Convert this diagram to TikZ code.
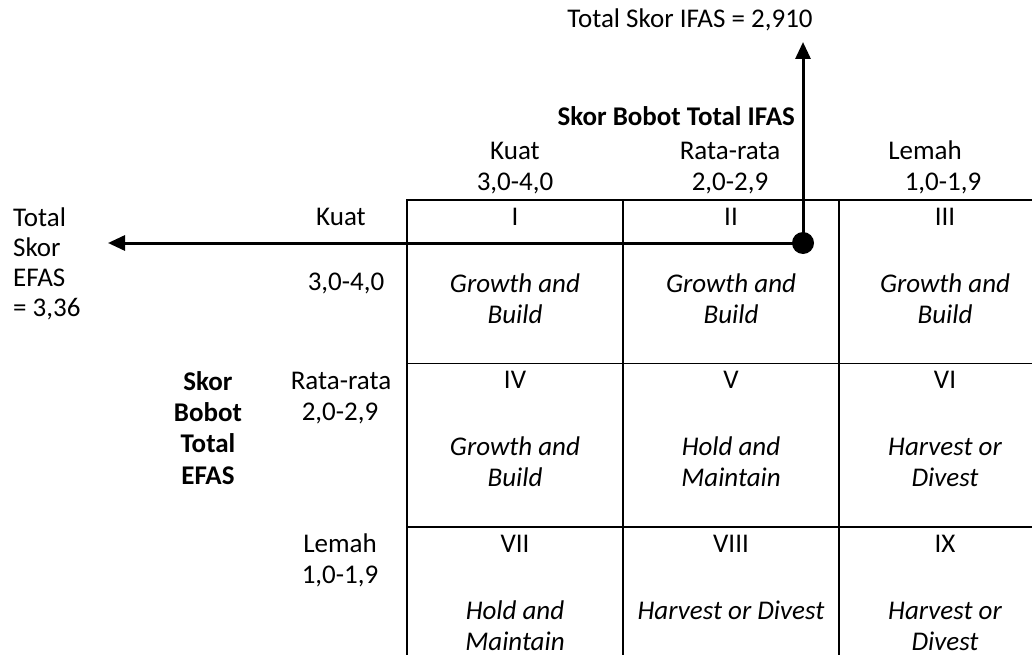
\documentclass[tikz,border=0pt]{standalone}
\usepackage{fontspec}
\setmainfont{Carlito}
\usetikzlibrary{arrows.meta}
\begin{document}
\begin{tikzpicture}[x=1pt,y=-1pt,
  txt/.style={inner sep=0pt, anchor=base, font=\fontsize{27}{31}\selectfont},
  txtl/.style={txt, anchor=base west},
  itx/.style={txt, font=\fontsize{27}{31}\selectfont\itshape},
  bld/.style={txt, font=\fontsize{27}{31}\selectfont\bfseries},
  grid/.style={line width=1.3pt, black},
  axis/.style={line width=3pt, -{Triangle[length=17pt,width=15pt]}},
  dotnode/.style={circle, fill=black, inner sep=0pt, minimum size=22pt}
]
\useasboundingbox (0,0) rectangle (1032,655);
\fill[white] (0,0) rectangle (1032,655);

% grid
\draw[grid] (407,655) -- (407,200) -- (1032,200);
\draw[grid] (623,200) -- (623,655);
\draw[grid] (839,200) -- (839,655);
\draw[grid] (407,363.5) -- (1032,363.5);
\draw[grid] (407,527) -- (1032,527);

% top labels
\node[txt] (ifastot) at (690,28) {Total Skor IFAS = 2,910};
\node[bld, anchor=base east] (ifashead) at (795,126) {Skor Bobot Total IFAS};
\node[txt] (h1a) at (515,160) {Kuat};
\node[txt] (h1b) at (515,190) {3,0-4,0};
\node[txt] (h2a) at (730,160) {Rata-rata};
\node[txt] (h2b) at (730,190) {2,0-2,9};
\node[txt] (h3a) at (925,160) {Lemah};
\node[txt] (h3b) at (943,190) {1,0-1,9};

% left labels
\node[txtl] (et1) at (13,226) {Total};
\node[txtl] (et2) at (13,256) {Skor};
\node[txtl] (et3) at (13,286) {EFAS};
\node[txtl] (et4) at (13,316) {= 3,36};
\node[txt] (r1a) at (341,225) {Kuat};
\node[txt] (r1b) at (346,290) {3,0-4,0};
\node[txt] (r2a) at (341,389) {Rata-rata};
\node[txt] (r2b) at (340,420) {2,0-2,9};
\node[txt] (r3a) at (340,552) {Lemah};
\node[txt] (r3b) at (340,583) {1,0-1,9};
\node[bld] (eh1) at (208,390) {Skor};
\node[bld] (eh2) at (208,421) {Bobot};
\node[bld] (eh3) at (208,452) {Total};
\node[bld] (eh4) at (208,484) {EFAS};

% row 1
\node[txt] (n1) at (515,225) {I};
\node[itx] (c1a) at (515,292) {Growth and};
\node[itx] (c1b) at (515,323) {Build};
\node[txt] (n2) at (731,225) {II};
\node[itx] (c2a) at (731,292) {Growth and};
\node[itx] (c2b) at (731,323) {Build};
\node[txt] (n3) at (945,225) {III};
\node[itx] (c3a) at (945,292) {Growth and};
\node[itx] (c3b) at (945,323) {Build};

% row 2
\node[txt] (n4) at (515,388.5) {IV};
\node[itx] (c4a) at (515,455.5) {Growth and};
\node[itx] (c4b) at (515,486.5) {Build};
\node[txt] (n5) at (731,388.5) {V};
\node[itx] (c5a) at (731,455.5) {Hold and};
\node[itx] (c5b) at (731,486.5) {Maintain};
\node[txt] (n6) at (945,388.5) {VI};
\node[itx] (c6a) at (945,455.5) {Harvest or};
\node[itx] (c6b) at (945,486.5) {Divest};

% row 3
\node[txt] (n7) at (515,552) {VII};
\node[itx] (c7a) at (515,619) {Hold and};
\node[itx] (c7b) at (515,650) {Maintain};
\node[txt] (n8) at (731,552) {VIII};
\node[itx] (c8a) at (731,619) {Harvest or Divest};
\node[txt] (n9) at (945,552) {IX};
\node[itx] (c9a) at (945,619) {Harvest or};
\node[itx] (c9b) at (945,650) {Divest};

% axes
\coordinate (efas) at (108,243);
\coordinate (ifas) at (803,42);
\node[dotnode] (dot) at (803,243) {};
\draw[axis] (dot.center) -- (efas);
\draw[axis] (dot.center) -- (ifas);
\end{tikzpicture}
\end{document}
